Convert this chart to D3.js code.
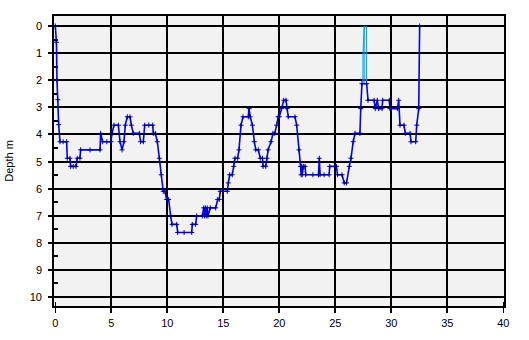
<!DOCTYPE html>
<html>
<head>
<meta charset="utf-8">
<script src="https://cdn.jsdelivr.net/npm/d3@7"></script>
<style>
body { margin: 0; background: #fff; }
text { font-family: "Liberation Sans", Arial, sans-serif; font-size: 11px; fill: #000; }
</style>
</head>
<body>
<svg width="529" height="340"></svg>
<script>
// dive profile: time (min) and depth (m)
var timeMin = [0, 0.1, 0.15, 0.22, 0.3, 0.42, 0.7, 1.01, 1.07, 1.31, 1.37, 1.6, 1.85, 1.96, 2.2, 2.26, 3.1, 3.99,
  4.05, 4.23, 4.6, 4.97, 5.06, 5.24, 5.63, 5.78, 5.96, 6.13, 6.25, 6.43, 6.67, 6.79, 6.96, 7.5, 7.62, 7.86,
  7.98, 8.35, 8.7, 8.75, 8.93, 9.11, 9.29, 9.46, 9.64, 9.79, 9.94, 10.12, 10.3, 10.42, 10.84, 10.93, 11.5,
  12.18, 12.23, 12.53, 12.62, 13.13, 13.25, 13.32, 13.4, 13.48, 13.56, 13.63, 13.84, 14.32, 14.5, 14.64,
  14.73, 15.36, 15.45, 15.57, 15.8, 15.93, 16.04, 16.28, 16.4, 16.58, 16.76, 17.23, 17.3, 17.4, 17.6, 17.77,
  17.9, 18.13, 18.3, 18.5, 18.55, 18.79, 18.9, 19.0, 19.26, 19.44, 19.6, 19.76, 19.9, 20.0, 20.2, 20.4,
  20.6, 20.7, 20.8, 21.4, 21.55, 21.76, 21.9, 21.95, 22.0, 22.05, 22.15, 22.3, 22.36, 23.0, 23.5, 23.57,
  23.64, 24.0, 24.45, 24.5, 25.1, 25.2, 25.6, 25.8, 26.0, 26.25, 26.4, 26.6, 26.76, 27.2, 27.27, 27.38,
  27.8, 27.92, 28.46, 28.57, 28.75, 28.87, 29.17, 29.23, 29.82, 29.88, 30.54, 30.66, 30.78, 31.13, 31.25,
  31.67, 31.76, 32.18, 32.27, 32.45, 32.53];
var depthM = [0, 0.6, 2.0, 2.72, 3.64, 4.27, 4.27, 4.27, 4.88, 4.88, 5.18, 5.18, 5.18, 4.88, 4.88, 4.57, 4.57, 4.57,
  3.96, 4.27, 4.27, 4.27, 3.96, 3.66, 3.66, 4.27, 4.57, 4.27, 3.66, 3.35, 3.35, 3.66, 3.96, 3.96, 4.27, 4.27,
  3.66, 3.66, 3.66, 3.96, 3.96, 4.27, 4.88, 5.49, 6.10, 6.10, 6.40, 6.40, 7.01, 7.32, 7.32, 7.62, 7.62,
  7.62, 7.32, 7.32, 7.01, 7.01, 6.71, 7.01, 6.71, 7.01, 6.71, 7.01, 6.71, 6.71, 6.40, 6.40,
  6.10, 6.10, 5.79, 5.49, 5.49, 5.18, 4.88, 4.88, 4.57, 3.66, 3.35, 3.35, 3.05, 3.35, 3.66, 4.27,
  4.57, 4.57, 4.88, 4.88, 5.18, 5.18, 4.88, 4.57, 4.27, 3.96, 3.96, 3.66, 3.35, 3.35, 3.05, 2.74,
  2.74, 3.05, 3.35, 3.35, 3.66, 4.57, 5.18, 5.49, 5.18, 5.49, 5.18, 5.18, 5.49, 5.49, 5.49, 4.88,
  5.49, 5.49, 5.49, 5.18, 5.18, 5.49, 5.49, 5.79, 5.79, 5.18, 4.88, 4.27, 3.96, 3.96, 3.05, 2.13,
  2.13, 2.74, 2.74, 3.05, 2.74, 3.05, 3.05, 2.74, 2.74, 3.05, 3.05, 2.74, 3.66, 3.66, 3.96,
  3.96, 4.27, 4.27, 3.66, 3.05, 0];
// fast ascent part, light blue
var alarmTime = [27.47, 27.47, 27.58, 27.58, 27.78, 27.78];
var alarmDepth = [2.13, 1.07, 0, 2.13, 2.13, 0];

var xTicks = [0, 5, 10, 15, 20, 25, 30, 35, 40];
var yTicks = [0, 1, 2, 3, 4, 5, 6, 7, 8, 9, 10];
var yMinor = [0.5, 1.5, 2.5, 3.5, 4.5, 5.5, 6.5, 7.5, 8.5, 9.5];

var svg = d3.select("svg");
var x = d3.scaleLinear().domain([0, 40]).range([55.3, 503.3]);
var y = d3.scaleLinear().domain([0, 10]).range([26, 297]);
var pLeft = 53.3, pRight = 505.3, pTop = 15, pBottom = 307;

svg.append("rect")
  .attr("x", pLeft).attr("y", pTop)
  .attr("width", pRight - pLeft).attr("height", pBottom - pTop)
  .attr("fill", "#f2f2f2");

var grid = svg.append("g").attr("stroke", "#000").attr("stroke-width", 2).attr("shape-rendering", "crispEdges");

grid.selectAll(".hline")
  .data(yTicks)
  .enter().append("line")
  .attr("x1", pLeft - 5).attr("x2", pRight)
  .attr("y1", d => y(d)).attr("y2", d => y(d));

grid.selectAll(".vline")
  .data(xTicks.filter(d => d > 0 && d < 40))
  .enter().append("line")
  .attr("x1", d => x(d)).attr("x2", d => x(d))
  .attr("y1", pTop).attr("y2", pBottom + 6);

grid.selectAll(".xend")
  .data([0, 40])
  .enter().append("line")
  .attr("stroke-width", 1.5)
  .attr("x1", d => x(d)).attr("x2", d => x(d))
  .attr("y1", pBottom - 5).attr("y2", pBottom + 6);

grid.selectAll(".ymin")
  .data(yMinor)
  .enter().append("line")
  .attr("x1", pLeft).attr("x2", pLeft + 5)
  .attr("y1", d => y(d)).attr("y2", d => y(d));

svg.append("rect")
  .attr("x", pLeft).attr("y", pTop)
  .attr("width", pRight - pLeft).attr("height", pBottom - pTop)
  .attr("fill", "none").attr("stroke", "#000").attr("stroke-width", 2)
  .attr("shape-rendering", "crispEdges");

svg.selectAll(".ylab")
  .data(yTicks)
  .enter().append("text")
  .attr("x", 42).attr("y", d => y(d) + 4)
  .attr("text-anchor", "end")
  .text(d => d);

svg.selectAll(".xlab")
  .data(xTicks)
  .enter().append("text")
  .attr("x", d => x(d)).attr("y", 327)
  .attr("text-anchor", "middle")
  .text(d => d);

svg.append("text")
  .attr("transform", "translate(13," + ((pTop + pBottom) / 2) + ") rotate(-90)")
  .attr("text-anchor", "middle")
  .text("Depth m");

var pts = timeMin.map((t, i) => [t, depthM[i]]);
var line = d3.line().x(d => x(d[0])).y(d => y(d[1]));

svg.append("path")
  .datum(pts)
  .attr("d", line)
  .attr("fill", "none")
  .attr("stroke", "#0000ff")
  .attr("stroke-width", 1.6);

svg.append("path")
  .datum(alarmTime.map((t, i) => [t, alarmDepth[i]]))
  .attr("d", line)
  .attr("fill", "none")
  .attr("stroke", "#0099ff")
  .attr("stroke-width", 1);

svg.append("g")
  .selectAll("path")
  .data(pts)
  .enter().append("path")
  .attr("d", d => {
    var cx = x(d[0]), cy = y(d[1]);
    return "M" + (cx - 2.5) + "," + cy + "H" + (cx + 2.5) + "M" + cx + "," + (cy - 2.5) + "V" + (cy + 2.5);
  })
  .attr("stroke", "#000099")
  .attr("stroke-width", 1);
</script>
</body>
</html>
